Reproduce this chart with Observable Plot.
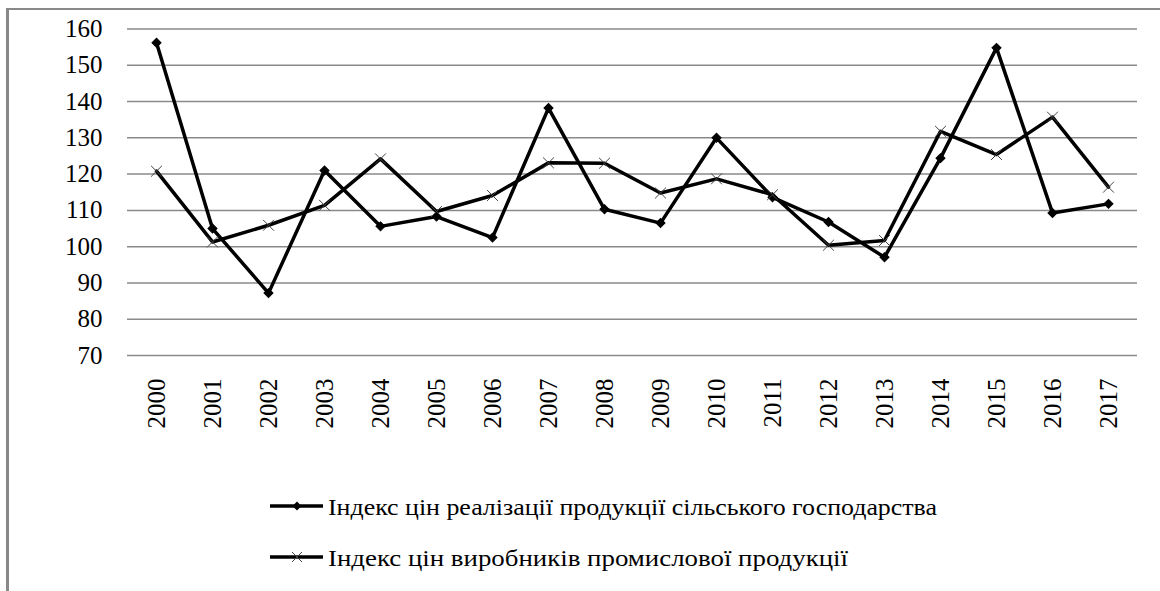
<!DOCTYPE html>
<html>
<head>
<meta charset="utf-8">
<script src="https://cdn.jsdelivr.net/npm/d3@7"></script>
<script src="https://cdn.jsdelivr.net/npm/@observablehq/plot@0.6"></script>
<style>
  html, body { margin: 0; padding: 0; background: #fff; }
  body { font-family: 'Liberation Serif', serif; }
  #wrap { position: relative; width: 1160px; height: 591px; overflow: hidden; }
  #frame { position: absolute; left: 6px; top: 8px; width: 1170px; height: 600px;
           border-top: 2.5px solid #898989; border-left: 3px solid #898989; box-sizing: border-box; }
  #chart { position: absolute; left: 0; top: 0; }
  #legend { position: absolute; left: 0; top: 460px; }
  .serif { font-family: 'Liberation Serif', serif; }
</style>
</head>
<body>
<div id="wrap">
  <div id="frame"></div>
  <div id="chart"></div>
  <div id="legend"></div>
</div>
<script>
const years = ["2000","2001","2002","2003","2004","2005","2006","2007","2008","2009",
               "2010","2011","2012","2013","2014","2015","2016","2017"];
const agriIndex = [156.2, 105.0, 87.2, 121.0, 105.6, 108.3, 102.5, 138.2, 110.3, 106.5,
                   130.0, 113.6, 106.8, 97.1, 124.4, 154.8, 109.3, 111.8];
const industIndex = [120.8, 101.3, 105.9, 111.4, 124.2, 109.7, 114.1, 123.1, 123.0, 114.8,
                     118.7, 114.3, 100.4, 101.7, 131.8, 125.4, 135.7, 116.4];
const yTicks = [70, 80, 90, 100, 110, 120, 130, 140, 150, 160];
const seriesNames = ["Індекс цін реалізації продукції сільського господарства",
                     "Індекс цін виробників промислової продукції"];

const agri = years.map((y, i) => ({year: y, value: agriIndex[i]}));
const indust = years.map((y, i) => ({year: y, value: industIndex[i]}));

const chart = Plot.plot({
  width: 1160,
  height: 460,
  marginLeft: 127,
  marginRight: 23,
  marginTop: 28.5,
  marginBottom: 105,
  x: {type: "point", domain: years, padding: 0.5, align: 0.5},
  y: {domain: [70, 160]},
  style: {fontFamily: "Liberation Serif", fontSize: "25px", color: "#000", background: "transparent"},
  marks: [
    Plot.ruleY(yTicks, {stroke: "#8a8a8a", strokeWidth: 1.5}),
    Plot.axisY({ticks: yTicks, tickSize: 0, tickPadding: 25, fontSize: 25, fontFamily: "Liberation Serif", label: null}),
    Plot.axisX({tickSize: 0, tickPadding: 23, tickRotate: -90, fontSize: 25, fontFamily: "Liberation Serif", label: null}),
    Plot.line(indust, {x: "year", y: "value", stroke: "#000", strokeWidth: 3.5}),
    Plot.line(agri, {x: "year", y: "value", stroke: "#000", strokeWidth: 3.5}),
    Plot.dot(agri, {x: "year", y: "value", symbol: "square", rotate: 45, r: 3.6, fill: "#000", stroke: "#000", strokeWidth: 1}),
    Plot.dot(indust, {x: "year", y: "value", symbol: "times", r: 5, stroke: "#444", strokeWidth: 1})
  ]
});
document.getElementById("chart").appendChild(chart);

// Legend
const ns = "http://www.w3.org/2000/svg";
const lg = document.createElementNS(ns, "svg");
lg.setAttribute("width", 1160);
lg.setAttribute("height", 131);
const rows = [
  {ly: 46, name: seriesNames[0], len: 609, sym: "diamond"},
  {ly: 97, name: seriesNames[1], len: 520, sym: "times"}
];
rows.forEach(r => {
  const line = document.createElementNS(ns, "line");
  line.setAttribute("x1", 270); line.setAttribute("x2", 323);
  line.setAttribute("y1", r.ly); line.setAttribute("y2", r.ly);
  line.setAttribute("stroke", "#000"); line.setAttribute("stroke-width", 3.5);
  lg.appendChild(line);
  if (r.sym === "diamond") {
    const p = document.createElementNS(ns, "path");
    p.setAttribute("d", `M297,${r.ly-4.5}L301.5,${r.ly}L297,${r.ly+4.5}L292.5,${r.ly}Z`);
    p.setAttribute("fill", "#000");
    lg.appendChild(p);
  } else {
    const p = document.createElementNS(ns, "path");
    p.setAttribute("d", `M292,${r.ly-5}L302,${r.ly+5}M302,${r.ly-5}L292,${r.ly+5}`);
    p.setAttribute("stroke", "#444"); p.setAttribute("stroke-width", 1);
    lg.appendChild(p);
  }
  const t = document.createElementNS(ns, "text");
  t.setAttribute("x", 328);
  t.setAttribute("y", r.ly + 9);
  t.setAttribute("class", "serif");
  t.setAttribute("font-family", "Liberation Serif");
  t.setAttribute("font-size", 24);
  t.setAttribute("textLength", r.len);
  t.setAttribute("lengthAdjust", "spacingAndGlyphs");
  t.textContent = r.name;
  lg.appendChild(t);
});
document.getElementById("legend").appendChild(lg);
</script>
</body>
</html>
